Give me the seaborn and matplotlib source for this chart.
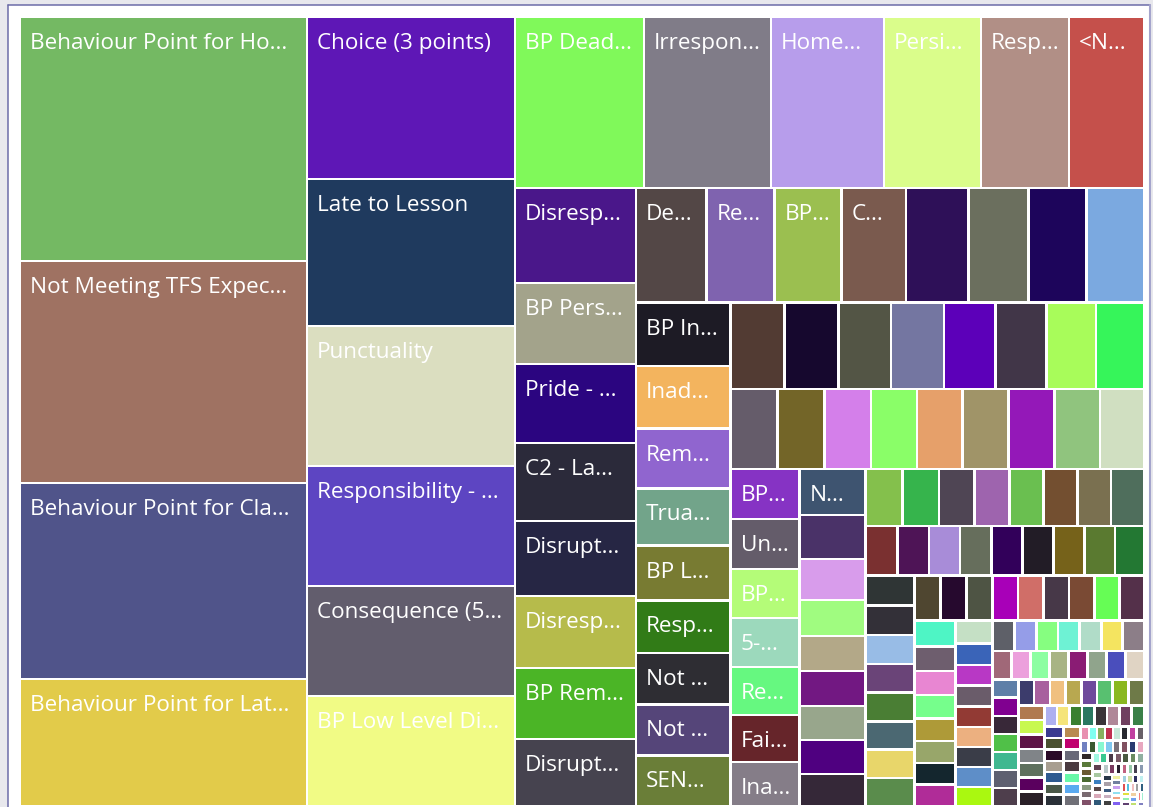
import matplotlib

matplotlib.use('agg')
import matplotlib.pyplot as plt
from matplotlib.patches import Rectangle
import seaborn as sns

# category labels as shown (Power BI truncates them), unlabeled tiles left out
labels = [
    'Behaviour Point for Ho...', 'Not Meeting TFS Expec...', 'Behaviour Point for Cla...', 'Behaviour Point for Lat...',
    'Choice (3 points)', 'Late to Lesson', 'Punctuality', 'Responsibility - ...', 'Consequence (5...', 'BP Low Level Di...',
    'BP Dead...', 'Irrespon...', 'Home...', 'Persi...', 'Resp...', '<N...',
    'Disresp...', 'BP Pers...', 'Pride - ...', 'C2 - La...', 'Disrupt...', 'Disresp...', 'BP Rem...', 'Disrupt...',
    'De...', 'Re...', 'BP...', 'C...', '', '', '', '',
    'BP In...', 'Inad...', 'Rem...', 'Trua...', 'BP L...', 'Resp...', 'Not ...', 'Not ...', 'SEN...',
    '', '', '', '', '', '', '', '',
    '', '', '', '', '', '', '', '', '',
    'BP...', 'Un...', 'BP...', '5-...', 'Re...', 'Fai...', 'Ina...',
    'N...',
]

# counts, largest first
values = [
    70028, 63714, 56252, 36449,
    33696, 30576, 29120, 24960, 22880, 22880,
    22059, 21717, 19323, 16587, 15048, 12825,
    11495, 9801, 9559, 9438, 9075, 8712, 8591, 8107,
    8100, 7820, 7650, 7400, 7150, 6900, 6650, 6600,
    6032, 5937, 5652, 5462, 5177, 4987, 4892, 4845, 4797,
    4644, 4644, 4558, 4558, 4472, 4386, 4300, 4128,
    3760, 3760, 3760, 3680, 3680, 3680, 3680, 3680, 3520,
    3450, 3450, 3381, 3381, 3312, 3243, 3036,
    3036, 2904, 2706, 2376, 2310, 2310, 2244, 2244, 2112,
    2100, 2060, 2020, 1990, 1960, 1920, 1900, 1880,
    1575, 1575, 1550, 1550, 1550, 1550, 1525, 1525, 1450,
    1450, 1440, 1420, 1410, 1400, 1390, 1380, 1380,
    1170, 1160, 1150, 1150, 1140, 1140, 1130, 1120, 1110,
    1050, 1010, 990, 950, 930, 900, 880, 870,
    851, 796, 759, 759, 759, 740, 740, 740, 703,
    670, 665, 660, 658, 655, 650, 647,
    545, 542, 540, 538, 536, 535, 534, 533,
    480, 476, 472, 470, 468, 468, 466,
    410, 410, 410, 410, 409, 409, 409, 409,
    376, 374, 372, 371, 370, 369, 368,
    268, 267, 266, 265, 264, 264, 264, 263,
    222, 221, 220, 220, 219, 219, 219,
    194, 193, 192, 192, 191, 191, 190,
    112, 111, 110, 110, 109, 108, 108,
    102, 101, 100, 100, 100, 99, 99, 99,
    92, 91, 90, 90, 89, 89, 88, 88,
    81, 80, 80, 80, 79, 79, 78, 78,
    71, 70, 70, 70, 69, 69, 68, 68,
    61, 61, 60, 60, 60, 59, 59, 58, 58,
    51, 51, 50, 50, 50, 50, 49, 49, 48, 48,
    41, 41, 40, 40, 40, 40, 39, 39, 38, 38,
    31, 30, 30, 29,
]

colors = [
    '#74b963', '#9f7262', '#50548a', '#e2cb4a',
    '#5e17b6', '#1f3a5e', '#dbdec0', '#5d45c2', '#625d6d', '#f1fb85',
    '#80f95a', '#807c88', '#b79deb', '#dafd8b', '#b18f86', '#c5504b',
    '#4a178a', '#a3a38b', '#2b0580', '#2b2a3a', '#262644', '#b6bb4b', '#4bb526', '#46434f',
    '#534746', '#7f63af', '#9bbf50', '#7a5a4e', '#2e1058', '#6b6f5e', '#1d055b', '#7ba9e0',
    '#1d1b25', '#f3b45e', '#9065cf', '#72a48a', '#787b32', '#317b17', '#2e2d33', '#554579', '#6a7e38',
    '#523b33', '#16082e', '#535545', '#7476a1', '#5c00b9', '#413648', '#a8fc5a', '#36f55a',
    '#655c6a', '#736528', '#d47fea', '#8afe68', '#e6a06a', '#a09468', '#9418b8', '#90c47e', '#d0dfc1',
    '#8633c4', '#645c6a', '#b4fc78', '#9cd9bc', '#66f880', '#66252a', '#857d88',
    '#3e5470', '#4a3268', '#d89ceb', '#a0fc80', '#b3a888', '#721882', '#98a68c', '#4f0080', '#352838',
    '#84c04c', '#36b44c', '#4f4554', '#9e64ae', '#6abf50', '#734f30', '#7a7050', '#4f6e5c',
    '#7a3030', '#4e1456', '#a88cd8', '#666e5c', '#32005a', '#221c26', '#76621a', '#5a7a30', '#237833',
    '#2f3535', '#333038', '#98bce6', '#6a4478', '#4a7e34', '#4b6872', '#e8d66a', '#5a8c4c',
    '#4f4630', '#26092e', '#4e5444', '#a800b8', '#d06e68', '#473848', '#7a4a34', '#66fd55', '#54304a',
    '#4ef5c5', '#6e5e6e', '#e886d2', '#76fe8c', '#ae9a38', '#98a66a', '#14262e', '#b02c98',
    '#c5e0c5', '#3a64b8', '#b838c5', '#6a5c6a', '#923a34', '#ecb080', '#3a3d48', '#5e8ec8', '#aaf810',
    '#5e6068', '#959de8', '#86fe80', '#6ef2d4', '#b0dcc8', '#f4e460', '#8c7e88',
    '#a06878', '#eca0dc', '#8cfea2', '#a8b484', '#8a1c74', '#90a48c', '#4a4ebc', '#e0d4c4',
    '#5e7fa8', '#800090', '#382838', '#50c048', '#40b890', '#5e6070', '#4e3e4c',
    '#3c3c6c', '#a8609e', '#f0c080', '#b8a850', '#6e4a9c', '#58c070', '#8ab820', '#6e7a48',
    '#b07a50', '#c8f850', '#5e1446', '#808488', '#5e705e', '#5a005e', '#2a2028',
    '#aeb0f0', '#f5e47a', '#3a8030', '#2a7860', '#3a3438', '#b08898', '#704060', '#3a8048',
    '#3a3a90', '#4a5030', '#2a0a28', '#a89e90', '#2e5a90', '#4a5848', '#2a3038',
    '#b88a50', '#c0006e', '#686878', '#4a3a40', '#68f8a8', '#5aaaf0', '#707078',
    '#e890b0', '#80fff0', '#88b060', '#c03050', '#c8e8d8', '#282830', '#c040a0',
    '#686068', '#7080c0', '#3a5a30', '#88f8d0', '#80c8f0', '#787078', '#805060', '#2a3a70',
    '#e8a8c0', '#302828', '#5a7a3a', '#6a5a30', '#4a6a30', '#8a9a80', '#7a6a70', '#805068',
    '#a0f8e0', '#38c890', '#4a3a48', '#7a5a68', '#4a5a40', '#6a8a60', '#90b0a0', '#604050',
    '#a8c8a0', '#3a80c0', '#584848', '#d8a8b8', '#305878', '#b8c8c8', '#7a3a60', '#2a2030',
    '#c06080', '#98c8a8', '#484050', '#8a9ab0', '#283848', '#a8a0a8', '#3a5a80', '#c8b0c0', '#404040',
    '#f0f0a0', '#7080a0', '#c8a0f0', '#90e0f0', '#f0a080', '#8060f0', '#a0d0e0', '#d0e0a0', '#303060', '#c0f0f0',
    '#e05050', '#50c0e0', '#f0c0c0', '#a0a0a0', '#306080', '#e0e040', '#90f0b0', '#604070', '#f0d0a0', '#70a0f0',
    '#c0e070', '#f08080', '#a0f0d0', '#8080c0',
]

PHI = (1 + 5 ** 0.5) / 2


def squarify(sizes, x0, y0, x1, y1, ratio=PHI):
    # same strip rule as d3.treemapSquarify (golden ratio), y grows downward
    rects = []
    n = len(sizes)
    total = float(sum(sizes))
    i0 = 0
    while i0 < n:
        dx, dy = x1 - x0, y1 - y0
        i1 = i0 + 1
        s = sizes[i0]
        vmin = vmax = s
        alpha = max(dy / dx, dx / dy) / (total * ratio)
        beta = s * s * alpha
        best = max(vmax / beta, beta / vmin)
        while i1 < n:
            v = sizes[i1]
            s2 = s + v
            beta = s2 * s2 * alpha
            r = max(max(vmax, v) / beta, beta / min(vmin, v))
            if r > best:
                break
            s, best = s2, r
            vmin, vmax = min(vmin, v), max(vmax, v)
            i1 += 1
        row = sizes[i0:i1]
        if dx < dy:
            h = dy * s / total
            xx = x0
            for v in row:
                w = dx * v / s
                rects.append((xx, y0, w, h))
                xx += w
            y0 += h
        else:
            w = dx * s / total
            yy = y0
            for v in row:
                h = dy * v / s
                rects.append((x0, yy, w, h))
                yy += h
            x0 += w
        total -= s
        i0 = i1
    return rects


sns.set_theme(style='white')
plt.rcParams['font.family'] = ['Open Sans', 'DejaVu Sans']

fig = plt.figure(figsize=(11.53, 8.07), dpi=100)
fig.patch.set_facecolor('#e8e8ed')
ax = fig.add_axes([0, 0, 1, 1])
ax.set_xlim(0, 1153)
ax.set_ylim(807, 0)
ax.axis('off')

# visual container frame
ax.add_patch(Rectangle((8, 4.5), 1142, 815, facecolor='white', edgecolor='none'))
ax.plot([8, 1150], [4.5, 4.5], color='#6c6ca8', lw=1.1)
ax.plot([8, 8], [4.5, 807], color='#6c6ca8', lw=1.1)
ax.plot([1150, 1150], [4.5, 807], color='#a4a4cc', lw=1.5)

tiles = squarify(values, 20, 17, 1144, 806)
gap = 1.3
for i, (x, y, w, h) in enumerate(tiles):
    ax.add_patch(Rectangle((x + gap, y + gap), w - 2 * gap, h - 2 * gap,
                           facecolor=colors[i], edgecolor='none'))
    if i < len(labels) and labels[i]:
        ax.text(x + 10, y + 32, labels[i], color='white', fontsize=16.2,
                ha='left', va='baseline')

fig.savefig('out.png', dpi=100, facecolor=fig.get_facecolor())
